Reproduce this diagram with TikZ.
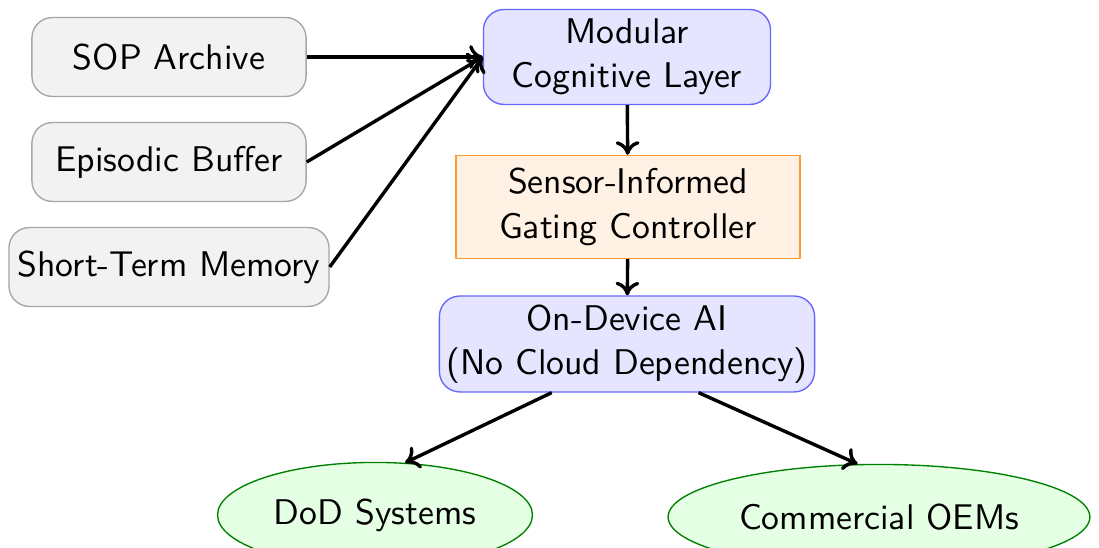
\documentclass[tikz,border=0pt]{standalone}
\usetikzlibrary{shapes.geometric,arrows.meta,calc}
\begin{document}
\begin{tikzpicture}[x=0.294pt,y=-0.294pt,font=\sffamily\fontsize{10.5}{13}\selectfont,
  mem/.style={draw=gray!70,fill=gray!10,rounded corners=6pt,minimum width=80.6pt,minimum height=23.2pt,inner sep=0pt},
  core/.style={draw=blue!60,fill=blue!10,rounded corners=6pt,inner sep=0pt,align=center},
  gate/.style={draw=orange!80,fill=orange!10,inner sep=0pt,align=center,minimum width=101.1pt,minimum height=30.3pt},
  outp/.style={ellipse,draw=green!50!black,fill=green!10,inner sep=0pt},
  arr/.style={-{To[length=4pt,width=7pt]},line width=1pt}]
\useasboundingbox (0,0) rectangle (1099,548);
\node[mem] (sop) at (169,57) {SOP Archive};
\node[mem] (epi) at (169,162) {Episodic Buffer};
\node[mem,minimum width=94.1pt] (stm) at (169,267) {Short-Term Memory};
\node[core,minimum width=84.4pt,minimum height=27.9pt] (mod) at (627,57) {Modular\\Cognitive Layer};
\node[gate] (gat) at (628,207) {Sensor-Informed\\Gating Controller};
\node[core,minimum width=110.3pt,minimum height=28.2pt] (dev) at (627,344) {On-Device AI\\(No Cloud Dependency)};
\node[outp,minimum width=92.6pt,minimum height=30.9pt] (dod) at (375,515) {DoD Systems};
\node[outp,minimum width=124pt,minimum height=30.9pt] (oem) at (879,517) {Commercial OEMs};
\draw[arr] (sop.east) -- (mod.west);
\draw[arr] (epi.east) -- (mod.west);
\draw[arr] (stm.east) -- (mod.west);
\draw[arr] (mod) -- (gat);
\draw[arr] (gat) -- (dev);
\draw[arr] ($(dev.south west)!0.3!(dev.south east)$) -- (dod.60);
\draw[arr] ($(dev.south west)!0.69!(dev.south east)$) -- (oem.112);
\end{tikzpicture}
\end{document}
